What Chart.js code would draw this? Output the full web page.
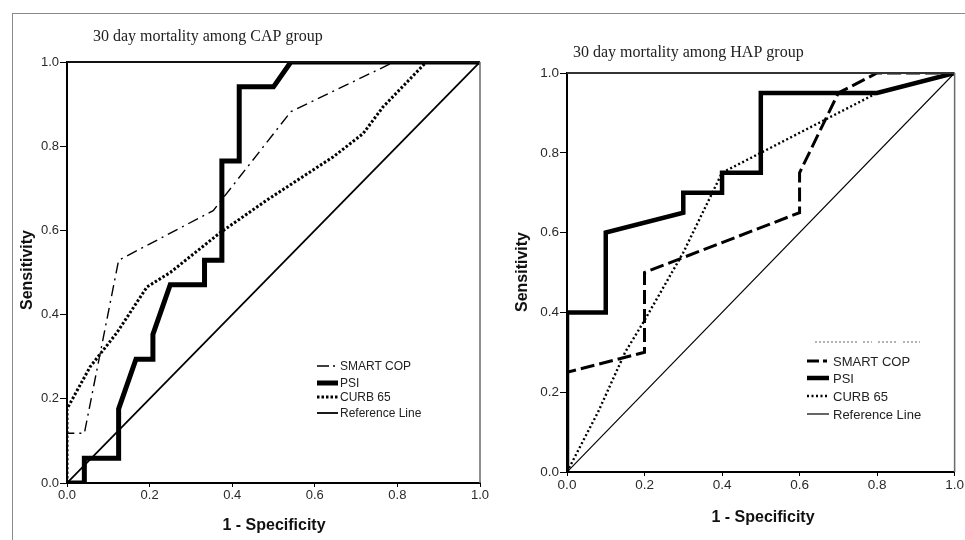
<!DOCTYPE html>
<html>
<head>
<meta charset="utf-8">
<script src="https://cdn.jsdelivr.net/npm/chart.js@4.4.1/dist/chart.umd.min.js"></script>
<style>
body { margin: 0; background: #fff; }
#wrap { position: relative; width: 965px; height: 540px; overflow: hidden; background: #fff; }
#frame { position: absolute; left: 12px; top: 13px; width: 980px; height: 560px; border-top: 1.5px solid #8a8a8a; border-left: 1.5px solid #8a8a8a; }
canvas { position: absolute; top: 0; }
#capChart { left: 0; }
#hapChart { left: 482px; }
</style>
</head>
<body>
<div id="wrap">
  <div id="frame"></div>
  <canvas id="capChart" width="500" height="540"></canvas>
  <canvas id="hapChart" width="483" height="540"></canvas>
</div>
<script>
// CAP group (left panel)
const capSmartX = [0, 0, 0.042, 0.125, 0.354, 0.542, 0.792, 1];
const capSmartY = [0, 0.118, 0.118, 0.529, 0.647, 0.882, 1, 1];
const capPsiX = [0, 0.042, 0.042, 0.125, 0.125, 0.167, 0.208, 0.208, 0.25, 0.333, 0.333, 0.375, 0.375, 0.417, 0.417, 0.5, 0.542, 1];
const capPsiY = [0, 0, 0.059, 0.059, 0.176, 0.294, 0.294, 0.353, 0.471, 0.471, 0.529, 0.529, 0.765, 0.765, 0.941, 0.941, 1, 1];
const capCurbX = [0, 0, 0.056, 0.12, 0.194, 0.25, 0.37, 0.484, 0.645, 0.717, 0.765, 0.87, 1];
const capCurbY = [0, 0.176, 0.276, 0.356, 0.466, 0.5, 0.594, 0.672, 0.775, 0.83, 0.893, 1, 1];

// HAP group (right panel)
const hapSmartX = [0, 0, 0.2, 0.2, 0.6, 0.6, 0.7, 0.8, 1];
const hapSmartY = [0, 0.25, 0.3, 0.5, 0.65, 0.75, 0.95, 1, 1];
const hapPsiX = [0, 0, 0.1, 0.1, 0.3, 0.3, 0.4, 0.4, 0.5, 0.5, 0.8, 1];
const hapPsiY = [0, 0.4, 0.4, 0.6, 0.65, 0.7, 0.7, 0.75, 0.75, 0.95, 0.95, 1];
const hapCurbX = [0, 0.08, 0.15, 0.2, 0.3, 0.4, 0.8, 1];
const hapCurbY = [0, 0.15, 0.3, 0.38, 0.55, 0.75, 0.95, 1];

const refX = [0, 1];
const refY = [0, 1];

const seriesNames = ['SMART COP', 'PSI', 'CURB 65', 'Reference Line'];
const axisTicks = [0, 0.2, 0.4, 0.6, 0.8, 1.0];

function pts(xs, ys) {
    return xs.map((x, i) => ({ x: x, y: ys[i] }));
}

// draws titles, plot frame and the hand made legend
const decor = {
    id: 'decor',
    afterDatasetsDraw(chart, args, o) {
        const ctx = chart.ctx;
        const a = chart.chartArea;
        ctx.save();
        // top + right frame of the plot
        ctx.setLineDash([]);
        ctx.strokeStyle = o.topColor;
        ctx.lineWidth = 2;
        ctx.beginPath();
        ctx.moveTo(a.left, a.top);
        ctx.lineTo(a.right, a.top);
        ctx.stroke();
        ctx.strokeStyle = '#6a6a6a';
        ctx.lineWidth = 1.5;
        ctx.beginPath();
        ctx.moveTo(a.right, a.top);
        ctx.lineTo(a.right, a.bottom);
        ctx.stroke();

        // chart title
        ctx.fillStyle = '#222';
        ctx.font = o.titleFont;
        ctx.textBaseline = 'middle';
        ctx.textAlign = 'left';
        ctx.fillText(o.title, o.titleX, o.titleY);

        // axis titles
        ctx.font = 'bold 16px "Liberation Sans", Arial, sans-serif';
        ctx.fillStyle = '#111';
        ctx.textAlign = 'center';
        ctx.fillText('1 - Specificity', o.xTitleX, o.xTitleY);
        ctx.save();
        ctx.translate(o.yTitleX, o.yTitleY);
        ctx.rotate(-Math.PI / 2);
        ctx.fillText('Sensitivity', 0, 0);
        ctx.restore();

        // legend
        const lg = o.legend;
        if (lg.faint) {
            ctx.strokeStyle = '#9a9a9a';
            ctx.lineWidth = 1.5;
            ctx.setLineDash([2, 2]);
            lg.faint.forEach(s => {
                ctx.beginPath();
                ctx.moveTo(s[0], lg.faintY);
                ctx.lineTo(s[1], lg.faintY);
                ctx.stroke();
            });
        }
        ctx.font = lg.font;
        ctx.textAlign = 'left';
        chart.data.datasets.forEach((ds, i) => {
            const y = lg.rows[i];
            ctx.strokeStyle = '#000';
            ctx.lineWidth = ds.borderWidth;
            ctx.setLineDash(ds.legendDash || ds.borderDash || []);
            ctx.beginPath();
            ctx.moveTo(lg.x0, y);
            ctx.lineTo(lg.x1, y);
            ctx.stroke();
            ctx.setLineDash([]);
            ctx.fillStyle = '#222';
            ctx.fillText(ds.label, lg.tx, y + 1);
        });
        ctx.restore();
    }
};

function makeRoc(id, cfg) {
    const canvas = document.getElementById(id);
    const tickFont = { family: '"Liberation Sans", Arial, sans-serif', size: cfg.tickSize };
    return new Chart(canvas, {
        type: 'scatter',
        data: { datasets: cfg.datasets },
        options: {
            responsive: false,
            animation: false,
            layout: {
                padding: { left: 0, top: cfg.area.top, right: canvas.width - cfg.area.right, bottom: 0 }
            },
            elements: { point: { radius: 0, hoverRadius: 0 }, line: { tension: 0 } },
            plugins: {
                legend: { display: false },
                tooltip: { enabled: false },
                decor: cfg.decor
            },
            scales: {
                x: {
                    type: 'linear', min: 0, max: 1,
                    afterFit(s) { s.height = 540 - cfg.area.bottom; },
                    afterBuildTicks(s) { s.ticks = axisTicks.map(v => ({ value: v })); },
                    ticks: { callback: v => v.toFixed(1), color: '#2a2a2a', font: tickFont, padding: 1, maxRotation: 0 },
                    grid: { drawOnChartArea: false, drawTicks: true, tickLength: 4, color: '#000' },
                    border: { display: true, color: '#000', width: 2 }
                },
                y: {
                    type: 'linear', min: 0, max: 1,
                    afterFit(s) { s.width = cfg.area.left; },
                    afterBuildTicks(s) { s.ticks = axisTicks.map(v => ({ value: v })); },
                    ticks: { callback: v => v.toFixed(1), color: '#2a2a2a', font: tickFont, padding: 1 },
                    grid: { drawOnChartArea: false, drawTicks: true, tickLength: 7, color: '#000' },
                    border: { display: true, color: '#000', width: 2 }
                }
            }
        },
        plugins: [decor]
    });
}

function line(label, xs, ys, width, dash, extra) {
    return Object.assign({
        label: label,
        data: pts(xs, ys),
        showLine: true,
        borderColor: '#000',
        backgroundColor: '#000',
        borderWidth: width,
        borderDash: dash,
        borderCapStyle: 'butt',
        borderJoinStyle: 'miter',
        fill: false
    }, extra || {});
}

makeRoc('capChart', {
    area: { left: 67, top: 62, right: 480, bottom: 483 },
    tickSize: 13,
    datasets: [
        line(seriesNames[0], capSmartX, capSmartY, 1.4, [11, 5, 2, 5], { legendDash: [12, 4, 2, 4] }),
        line(seriesNames[1], capPsiX, capPsiY, 5, []),
        line(seriesNames[2], capCurbX, capCurbY, 3, [2.5, 2]),
        line(seriesNames[3], refX, refY, 1.8, [])
    ],
    decor: {
        topColor: '#111',
        title: '30 day mortality among CAP group',
        titleFont: '16px "Liberation Serif", "Times New Roman", serif',
        titleX: 93, titleY: 37,
        xTitleX: 274, xTitleY: 526,
        yTitleX: 28, yTitleY: 270,
        legend: { x0: 317, x1: 338, tx: 340, rows: [366, 383, 397, 413], font: '12px "Liberation Sans", Arial, sans-serif' }
    }
});

makeRoc('hapChart', {
    area: { left: 85, top: 73, right: 478, bottom: 472 },
    tickSize: 13.5,
    datasets: [
        line(seriesNames[0], hapSmartX, hapSmartY, 3, [14, 5], { legendDash: [12, 4, 4, 4] }),
        line(seriesNames[1], hapPsiX, hapPsiY, 4.5, []),
        line(seriesNames[2], hapCurbX, hapCurbY, 2.4, [2, 2.5]),
        line(seriesNames[3], refX, refY, 1.2, [])
    ],
    decor: {
        topColor: '#333',
        title: '30 day mortality among HAP group',
        titleFont: '16px "Liberation Serif", "Times New Roman", serif',
        titleX: 91, titleY: 53,
        xTitleX: 281, xTitleY: 518,
        yTitleX: 41, yTitleY: 272,
        legend: {
            x0: 325, x1: 347, tx: 351, rows: [361, 378, 396, 414], font: '13px "Liberation Sans", Arial, sans-serif',
            faintY: 342, faint: [[333, 375], [381, 390], [396, 415], [421, 438]]
        }
    }
});
</script>
</body>
</html>
